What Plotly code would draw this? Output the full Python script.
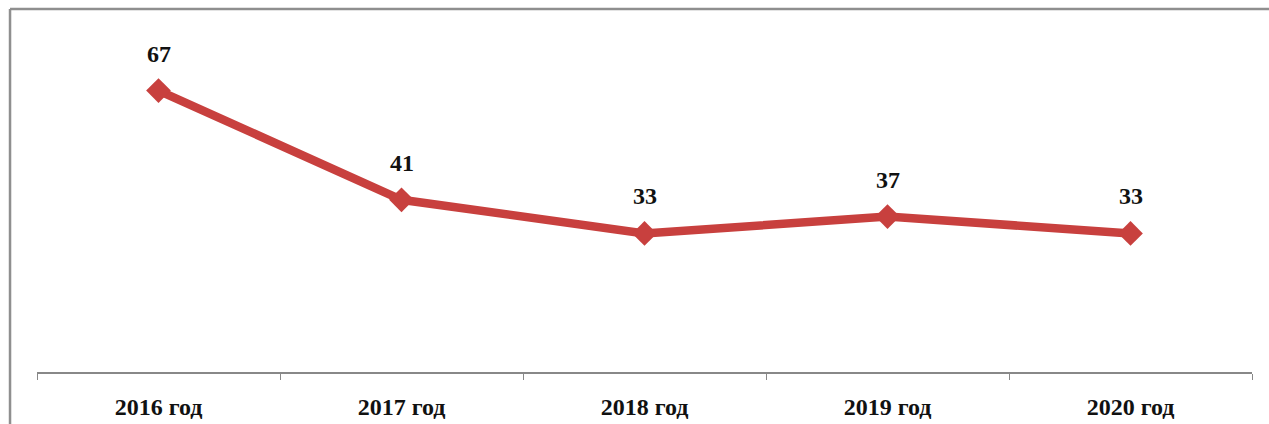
import plotly.graph_objects as go

categories = ["2016 год", "2017 год", "2018 год", "2019 год", "2020 год"]
values = [67, 41, 33, 37, 33]

line_color = "#C8403E"
font_family = "Liberation Serif, Times New Roman, serif"

fig = go.Figure()
fig.add_trace(go.Scatter(
    x=categories, y=values, mode="lines+markers",
    line=dict(color=line_color, width=8.5),
    marker=dict(symbol="diamond", size=19, color=line_color),
    hoverinfo="skip", showlegend=False,
))

for c, v in zip(categories, values):
    fig.add_annotation(x=c, y=v, text=f"<b>{v}</b>", showarrow=False,
                       yshift=37, font=dict(family=font_family, size=24, color="#111"))

# outer frame (left and top edges visible)
fig.add_shape(type="line", xref="paper", yref="paper",
              x0=-0.0222, x1=1.05, y0=1.0804, y1=1.0804,
              line=dict(color="#8f8f8f", width=2.5))
fig.add_shape(type="line", xref="paper", yref="paper",
              x0=-0.0222, x1=-0.0222, y0=1.0804, y1=-0.3,
              line=dict(color="#8f8f8f", width=2.5))

fig.update_layout(
    width=1269, height=424,
    margin=dict(l=37, r=17, t=36, b=52, autoexpand=False),
    paper_bgcolor="white", plot_bgcolor="white",
    font=dict(family=font_family),
    xaxis=dict(
        type="category", range=[-0.5, 4.5], automargin=False,
        showline=True, linecolor="#888", linewidth=1.5,
        ticks="outside", tickson="boundaries", ticklen=6, tickcolor="#888",
        tickfont=dict(family=font_family, size=24, color="#111"),
        ticklabelstandoff=12,
        tickprefix="<b>", ticksuffix="</b>",
        showgrid=False, zeroline=False,
    ),
    yaxis=dict(range=[0, 80], visible=False, showgrid=False, zeroline=False,
               automargin=False),
)

fig.write_html(
    "out.html",
    config={"displayModeBar": False},
    post_script="document.body.style.margin='0';document.body.style.overflow='hidden';",
)
